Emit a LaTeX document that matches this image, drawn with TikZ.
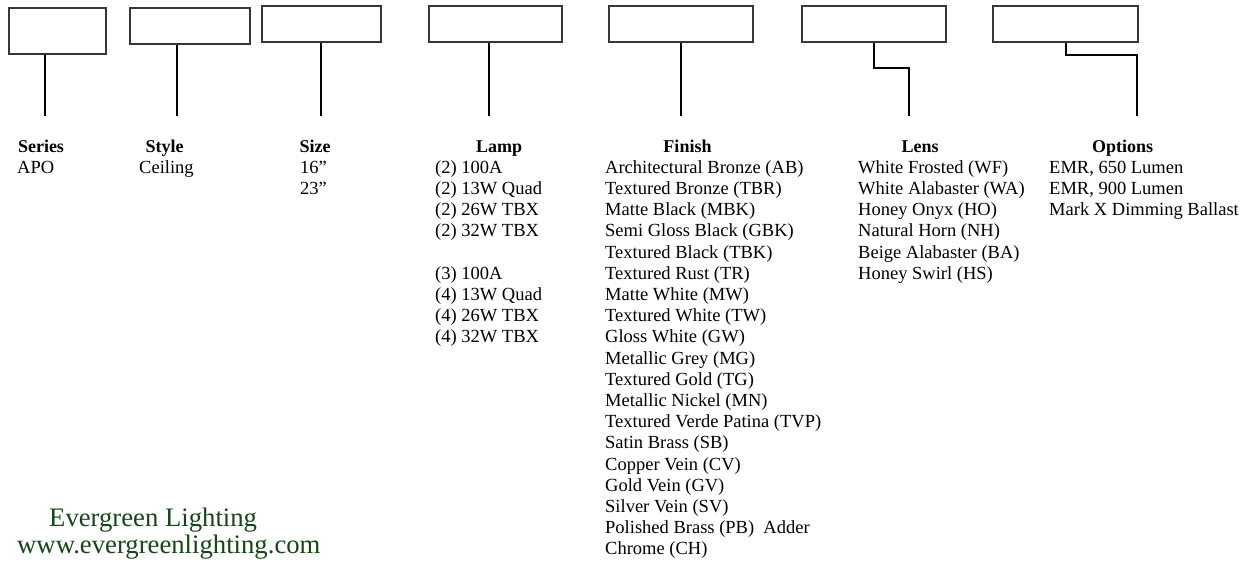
\documentclass[tikz,border=0pt]{standalone}
\usepackage{fontspec}
\setmainfont{Liberation Serif}
\usepackage{tikz}
\definecolor{eggreen}{RGB}{22,70,22}
\definecolor{egbox}{RGB}{55,55,55}
\tikzstyle{codebox} = [rectangle, draw=egbox, line width=1.3pt, minimum height=36pt, inner sep=0pt]
\tikzstyle{stem} = [line width=2pt, color=black]
\tikzstyle{head} = [anchor=base, inner sep=0pt, font=\fontsize{18}{21}\selectfont\bfseries]
\tikzstyle{item} = [anchor=base west, inner sep=0pt, font=\fontsize{18.5}{21}\selectfont]
\tikzstyle{brand} = [anchor=base west, inner sep=0pt, text=eggreen, font=\fontsize{26.7}{30}\selectfont]

\begin{document}
\begin{tikzpicture}[x=1pt, y=-1pt]
\useasboundingbox (0,0) rectangle (1249,560);
% Code boxes
\node[codebox, minimum width=97pt, minimum height=46pt] (seriesbox) at (57.5,31) {};
\node[codebox, minimum width=120pt] (stylebox) at (190,26) {};
\node[codebox, minimum width=119pt] (sizebox) at (321.5,24) {};
\node[codebox, minimum width=133pt] (lampbox) at (495.5,24) {};
\node[codebox, minimum width=144pt] (finishbox) at (681,24) {};
\node[codebox, minimum width=144pt] (lensbox) at (874,24) {};
\node[codebox, minimum width=145pt] (optionsbox) at (1065.5,24) {};

% Stem ends
\coordinate (seriesend) at (45,116);
\coordinate (styleend) at (177,116);
\coordinate (sizeend) at (321,116);
\coordinate (lampend) at (489,116);
\coordinate (finishend) at (681,116);
\coordinate (lensend) at (909,116);
\coordinate (optionsend) at (1137,116);

% Stems
\draw[stem] (seriesbox.south -| seriesend) -- (seriesend);
\draw[stem] (stylebox.south -| styleend) -- (styleend);
\draw[stem] (sizebox.south -| sizeend) -- (sizeend);
\draw[stem] (lampbox.south -| lampend) -- (lampend);
\draw[stem] (finishbox.south) -- (finishend);
\draw[stem] (lensbox.south) -- ++(0,25) -| (lensend);
\draw[stem] (optionsbox.south) -- ++(0,12) -| (optionsend);

% Headings
\node[head] (serieshead) at (41,152) {Series};
\node[head] (stylehead) at (164.5,152) {Style};
\node[head] (sizehead) at (315,152) {Size};
\node[head] (lamphead) at (499,152) {Lamp};
\node[head] (finishhead) at (687.5,152) {Finish};
\node[head] (lenshead) at (920,152) {Lens};
\node[head] (optionshead) at (1122.5,152) {Options};

% Choices
\node[item] (series1) at (17,173.2) {APO};
\node[item] (style1) at (139,173.2) {Ceiling};
\node[item] (size1) at (300,173.2) {16”};
\node[item] (size2) at (300,194.4) {23”};
\foreach \t/\r in {{(2) 100A}/1, {(2) 13W Quad}/2, {(2) 26W TBX}/3, {(2) 32W TBX}/4,
                   {(3) 100A}/6, {(4) 13W Quad}/7, {(4) 26W TBX}/8, {(4) 32W TBX}/9}
  \node[item] (lamp\r) at (435,152+\r*21.2) {\t};
\foreach \t [count=\i] in {Architectural Bronze (AB), Textured Bronze (TBR), Matte Black (MBK),
    Semi Gloss Black (GBK), Textured Black (TBK), Textured Rust (TR), Matte White (MW),
    Textured White (TW), Gloss White (GW), Metallic Grey (MG), Textured Gold (TG),
    Metallic Nickel (MN), Textured Verde Patina (TVP), Satin Brass (SB), Copper Vein (CV),
    Gold Vein (GV), Silver Vein (SV), Polished Brass (PB)\ \ Adder, Chrome (CH)}
  \node[item] (finish\i) at (605,152+\i*21.2) {\t};
\foreach \t [count=\i] in {White Frosted (WF), White Alabaster (WA), Honey Onyx (HO),
    Natural Horn (NH), Beige Alabaster (BA), Honey Swirl (HS)}
  \node[item] (lens\i) at (858,152+\i*21.2) {\t};
\foreach \t [count=\i] in {{EMR, 650 Lumen}, {EMR, 900 Lumen}, Mark X Dimming Ballast}
  \node[item] (options\i) at (1049,152+\i*21.2) {\t};

% Company
\node[brand] (company) at (49,526) {Evergreen Lighting};
\node[brand] (website) at (17,553) {www.evergreenlighting.com};
\end{tikzpicture}
\end{document}
